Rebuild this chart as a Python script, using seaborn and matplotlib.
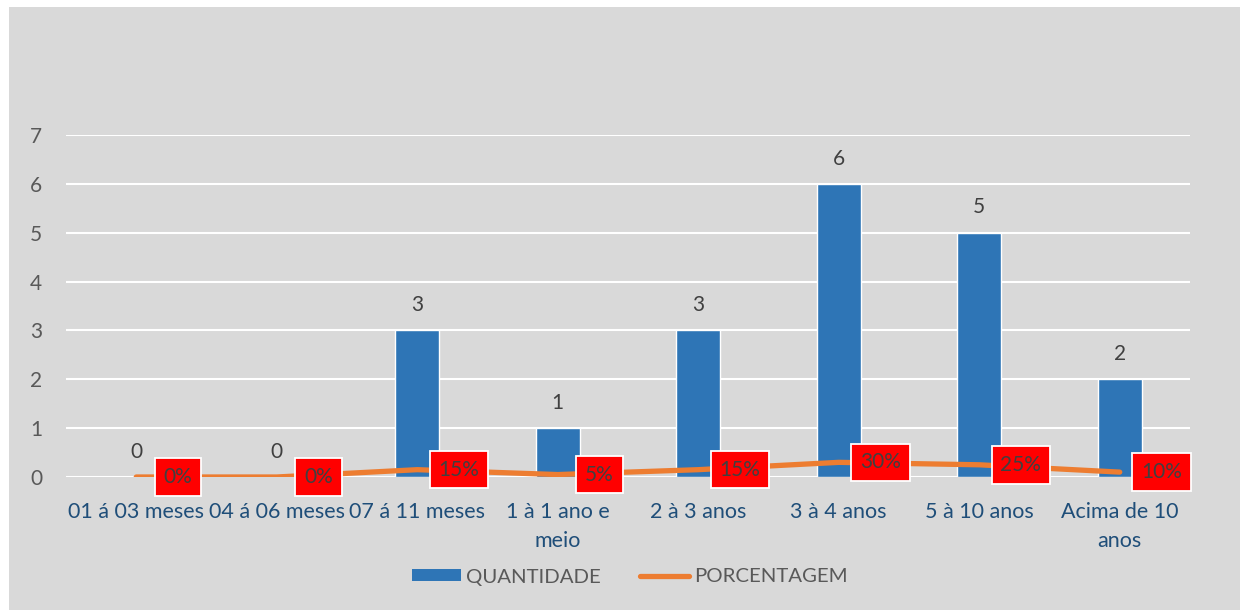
import numpy as np
import pandas as pd
import seaborn as sns
import matplotlib.pyplot as plt
from matplotlib.patches import Rectangle
from matplotlib.lines import Line2D
from matplotlib.patches import Patch

sns.set_style("white")
plt.rcParams['font.family'] = ['Lato', 'DejaVu Sans']

# data
categorias = ["01 á 03 meses", "04 á 06 meses", "07 á 11 meses", "1 à 1 ano e\nmeio",
              "2 à 3 anos", "3 à 4 anos", "5 à 10 anos", "Acima de 10\nanos"]
quantidade = [0, 0, 3, 1, 3, 6, 5, 2]
porcentagem = [0.00, 0.00, 0.15, 0.05, 0.15, 0.30, 0.25, 0.10]
rotulos_pct = ["0%", "0%", "15%", "5%", "15%", "30%", "25%", "10%"]

df = pd.DataFrame({"categoria": categorias, "QUANTIDADE": quantidade,
                   "PORCENTAGEM": porcentagem})
df["pos"] = np.arange(len(df))

azul = "#2E75B6"
laranja = "#ED7D31"
cinza = "#D9D9D9"
texto = "#595959"

fig = plt.figure(figsize=(12.4, 6.1), dpi=100, facecolor="white")
# gray chart area (small white margin on top/left like the original)
fig.patches.append(Rectangle((9 / 1240, 0), 1, 1 - 7 / 610, transform=fig.transFigure,
                             facecolor=cinza, edgecolor="none", zorder=-10))

ax = fig.add_axes([66 / 1240, 1 - 477 / 610, (1190 - 66) / 1240, (477 - 135) / 610])
ax.set_facecolor(cinza)

sns.barplot(data=df, x="pos", y="QUANTIDADE", color=azul, width=0.31,
            saturation=1, ax=ax, zorder=3)
sns.lineplot(data=df, x="pos", y="PORCENTAGEM", color=laranja, linewidth=3.8,
             ax=ax, zorder=4, solid_capstyle="round")

ax.bar_label(ax.containers[0], labels=[str(v) for v in quantidade], padding=11,
             fontsize=15, color="#404040")

for i, (v, lab) in enumerate(zip(porcentagem, rotulos_pct)):
    ax.annotate(lab, (i, v), xytext=(30, 0), textcoords="offset points",
                ha="center", va="center", fontsize=15, color="#404040", zorder=6,
                bbox=dict(boxstyle="square,pad=0.42", facecolor="#FF0000",
                          edgecolor="white", linewidth=1.3))

ax.set_xlim(-0.5, len(categorias) - 0.5)
ax.set_ylim(0, 7)
ax.set_yticks(range(0, 8))
ax.yaxis.grid(True, color="white", linewidth=1.5, zorder=0)
ax.set_axisbelow(True)
ax.set_xticks(range(len(categorias)))
ax.set_xticklabels(categorias, fontsize=15.5, color="#1F4E79", linespacing=1.55)
ax.tick_params(axis="x", length=0, pad=18)
ax.tick_params(axis="y", length=0, pad=17, labelsize=15, labelcolor=texto)
ax.set_xlabel("")
ax.set_ylabel("")
sns.despine(ax=ax, left=True, bottom=True, top=True, right=True)

handles = [Patch(facecolor=azul, edgecolor="none"),
           Line2D([0], [0], color=laranja, linewidth=3.8, solid_capstyle="round")]
fig.legend(handles, ["QUANTIDADE", "PORCENTAGEM"], loc="center",
           bbox_to_anchor=(630 / 1240, 1 - 577 / 610), ncol=2, frameon=False,
           fontsize=14.7, labelcolor=texto, handlelength=2.4, handleheight=0.55,
           columnspacing=1.9, handletextpad=0.25)

fig.savefig("out.png", dpi=100, facecolor="white")
